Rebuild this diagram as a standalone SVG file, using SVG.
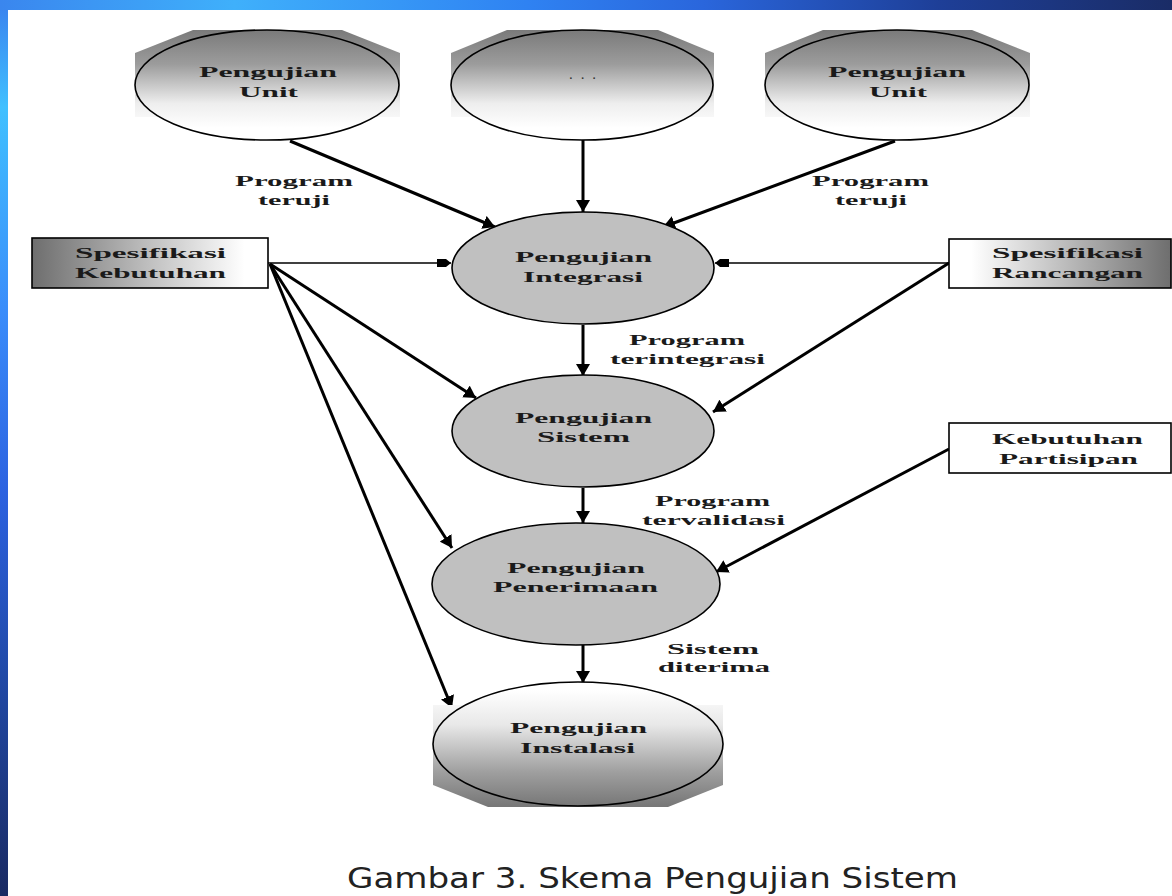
<svg xmlns="http://www.w3.org/2000/svg" width="1172" height="896" viewBox="0 0 1172 896">
<defs>
<linearGradient id="topBar" x1="0" y1="0" x2="1" y2="0">
<stop offset="0" stop-color="#3a86ee"/>
<stop offset="0.2" stop-color="#3fb0fb"/>
<stop offset="0.45" stop-color="#2f82f2"/>
<stop offset="0.6" stop-color="#2a66dc"/>
<stop offset="0.8" stop-color="#1e3f98"/>
<stop offset="1" stop-color="#1a2c66"/>
</linearGradient>
<linearGradient id="leftBar" x1="0" y1="0" x2="0" y2="1">
<stop offset="0" stop-color="#3a80ee"/>
<stop offset="0.12" stop-color="#40c0ff"/>
<stop offset="0.35" stop-color="#3a8cfa"/>
<stop offset="0.55" stop-color="#2c62e0"/>
<stop offset="0.75" stop-color="#214aa8"/>
<stop offset="1" stop-color="#1a2a62"/>
</linearGradient>
<linearGradient id="gTop" gradientUnits="userSpaceOnUse" x1="0" y1="30" x2="0" y2="128">
<stop offset="0" stop-color="#7a7a7a"/>
<stop offset="0.35" stop-color="#9c9c9c"/>
<stop offset="0.75" stop-color="#eeeeee"/>
<stop offset="1" stop-color="#ffffff"/>
</linearGradient>
<linearGradient id="gInst" gradientUnits="userSpaceOnUse" x1="0" y1="690" x2="0" y2="806">
<stop offset="0" stop-color="#ffffff"/>
<stop offset="0.3" stop-color="#e8e8e8"/>
<stop offset="0.7" stop-color="#a0a0a0"/>
<stop offset="1" stop-color="#777777"/>
</linearGradient>
<linearGradient id="gBoxL" x1="0" y1="0" x2="1" y2="0">
<stop offset="0" stop-color="#6e6e6e"/>
<stop offset="0.55" stop-color="#c8c8c8"/>
<stop offset="0.9" stop-color="#ffffff"/>
</linearGradient>
<linearGradient id="gBoxR" x1="0" y1="0" x2="1" y2="0">
<stop offset="0.1" stop-color="#ffffff"/>
<stop offset="0.45" stop-color="#c8c8c8"/>
<stop offset="1" stop-color="#6e6e6e"/>
</linearGradient>
<marker id="ah" viewBox="0 0 12 14" markerWidth="12" markerHeight="14" refX="12" refY="7" orient="auto" markerUnits="userSpaceOnUse">
<path d="M0,0 L12,7 L0,14 z" fill="#000"/>
</marker>
<marker id="ahs" viewBox="0 0 14 8" markerWidth="14" markerHeight="8" refX="14" refY="4" orient="auto" markerUnits="userSpaceOnUse">
<path d="M0,0 H9 L14,4 L9,8 H0 z" fill="#000"/>
</marker>
</defs>
<style>
.t{font-family:"Liberation Serif",serif;font-weight:bold;font-size:15px;fill:#1a1a1a}
.el{stroke:#000;stroke-width:1.6}
.box{stroke:#000;stroke-width:1.6}
.thick{stroke:#000;stroke-width:3;fill:none;marker-end:url(#ah)}
.thin{stroke:#000;stroke-width:1.6;fill:none;marker-end:url(#ahs)}
.cap{font-family:"DejaVu Sans",Verdana,sans-serif;font-size:29px;fill:#222}
</style>
<rect x="0" y="0" width="1172" height="896" fill="url(#leftBar)"/>
<rect x="0" y="0" width="1172" height="10" fill="url(#topBar)"/>
<rect x="8" y="10" width="1164" height="886" fill="#ffffff"/>

<g id="connectors">
<line class="thick" x1="290" y1="141" x2="495" y2="227"/>
<line class="thick" x1="583" y1="140" x2="583" y2="212"/>
<line class="thick" x1="895" y1="141" x2="663" y2="227"/>
<line class="thin" x1="268" y1="263" x2="451" y2="263"/>
<line class="thin" x1="949" y1="263" x2="715" y2="263"/>
<line class="thick" x1="270" y1="264" x2="476" y2="398"/>
<line class="thick" x1="270" y1="264" x2="452" y2="548"/>
<line class="thick" x1="270" y1="264" x2="452" y2="708"/>
<line class="thick" x1="949" y1="263" x2="713" y2="412"/>
<line class="thick" x1="583" y1="325" x2="583" y2="376"/>
<line class="thick" x1="583" y1="488" x2="583" y2="523"/>
<line class="thick" x1="949" y1="449" x2="716" y2="572"/>
<line class="thick" x1="583" y1="645" x2="583" y2="683"/>
</g>

<g id="labels">
<text class="t" x="235" y="186" textLength="118" lengthAdjust="spacingAndGlyphs">Program</text>
<text class="t" x="258" y="205" textLength="72" lengthAdjust="spacingAndGlyphs">teruji</text>
<text class="t" x="812" y="186" textLength="117" lengthAdjust="spacingAndGlyphs">Program</text>
<text class="t" x="835" y="205" textLength="72" lengthAdjust="spacingAndGlyphs">teruji</text>
<text class="t" x="629" y="345" textLength="116" lengthAdjust="spacingAndGlyphs">Program</text>
<text class="t" x="610" y="364" textLength="155" lengthAdjust="spacingAndGlyphs">terintegrasi</text>
<text class="t" x="655" y="506" textLength="115" lengthAdjust="spacingAndGlyphs">Program</text>
<text class="t" x="642" y="525" textLength="143" lengthAdjust="spacingAndGlyphs">tervalidasi</text>
<text class="t" x="667" y="654" textLength="92" lengthAdjust="spacingAndGlyphs">Sistem</text>
<text class="t" x="658" y="672" textLength="112" lengthAdjust="spacingAndGlyphs">diterima</text>
</g>

<g id="unit1">
<polygon points="135,53 193,30 342,30 400,53 400,117 135,117" fill="url(#gTop)"/>
<ellipse class="el" cx="267" cy="85" rx="132" ry="55" fill="url(#gTop)"/>
<text class="t" x="199" y="77" textLength="138" lengthAdjust="spacingAndGlyphs">Pengujian</text>
<text class="t" x="239" y="97" textLength="59" lengthAdjust="spacingAndGlyphs">Unit</text>
</g>

<g id="dots">
<polygon points="451,53 507,30 658,30 714,53 714,117 451,117" fill="url(#gTop)"/>
<ellipse class="el" cx="582" cy="85" rx="131" ry="55" fill="url(#gTop)"/>
<text class="t" x="569" y="79" textLength="27" lengthAdjust="spacing" style="font-weight:normal;fill:#333">...</text>
</g>

<g id="unit3">
<polygon points="765,53 823,30 972,30 1030,53 1030,117 765,117" fill="url(#gTop)"/>
<ellipse class="el" cx="897" cy="85" rx="132" ry="55" fill="url(#gTop)"/>
<text class="t" x="828" y="77" textLength="138" lengthAdjust="spacingAndGlyphs">Pengujian</text>
<text class="t" x="869" y="97" textLength="58" lengthAdjust="spacingAndGlyphs">Unit</text>
</g>

<g id="spek-kebutuhan">
<rect class="box" x="32" y="238" width="236" height="50" fill="url(#gBoxL)"/>
<text class="t" x="75" y="258" textLength="151" lengthAdjust="spacingAndGlyphs">Spesifikasi</text>
<text class="t" x="75" y="278" textLength="151" lengthAdjust="spacingAndGlyphs">Kebutuhan</text>
</g>

<g id="spek-rancangan">
<rect class="box" x="949" y="239" width="222" height="49" fill="url(#gBoxR)"/>
<text class="t" x="992" y="258" textLength="151" lengthAdjust="spacingAndGlyphs">Spesifikasi</text>
<text class="t" x="992" y="278" textLength="151" lengthAdjust="spacingAndGlyphs">Rancangan</text>
</g>

<g id="kebutuhan-partisipan">
<rect class="box" x="949" y="423" width="222" height="50" fill="#ffffff"/>
<text class="t" x="992" y="444" textLength="151" lengthAdjust="spacingAndGlyphs">Kebutuhan</text>
<text class="t" x="999" y="464" textLength="139" lengthAdjust="spacingAndGlyphs">Partisipan</text>
</g>

<g id="integrasi">
<ellipse class="el" cx="583" cy="268" rx="131" ry="56" fill="#c0c0c0"/>
<text class="t" x="515" y="262" textLength="137" lengthAdjust="spacingAndGlyphs">Pengujian</text>
<text class="t" x="523" y="282" textLength="120" lengthAdjust="spacingAndGlyphs">Integrasi</text>
</g>

<g id="sistem">
<ellipse class="el" cx="583" cy="431" rx="131" ry="56" fill="#c0c0c0"/>
<text class="t" x="515" y="423" textLength="137" lengthAdjust="spacingAndGlyphs">Pengujian</text>
<text class="t" x="537" y="442" textLength="93" lengthAdjust="spacingAndGlyphs">Sistem</text>
</g>

<g id="penerimaan">
<ellipse class="el" cx="576" cy="584" rx="144" ry="61" fill="#c0c0c0"/>
<text class="t" x="507" y="573" textLength="138" lengthAdjust="spacingAndGlyphs">Pengujian</text>
<text class="t" x="493" y="592" textLength="165" lengthAdjust="spacingAndGlyphs">Penerimaan</text>
</g>

<g id="instalasi">
<polygon points="433,705 723,705 723,785 668,807 488,807 433,785" fill="url(#gInst)"/>
<ellipse class="el" cx="578" cy="744" rx="145" ry="62" fill="url(#gInst)"/>
<text class="t" x="510" y="733" textLength="137" lengthAdjust="spacingAndGlyphs">Pengujian</text>
<text class="t" x="520" y="753" textLength="115" lengthAdjust="spacingAndGlyphs">Instalasi</text>
</g>

<text class="cap" x="347" y="888" textLength="611" lengthAdjust="spacingAndGlyphs">Gambar 3. Skema Pengujian Sistem</text>
</svg>
